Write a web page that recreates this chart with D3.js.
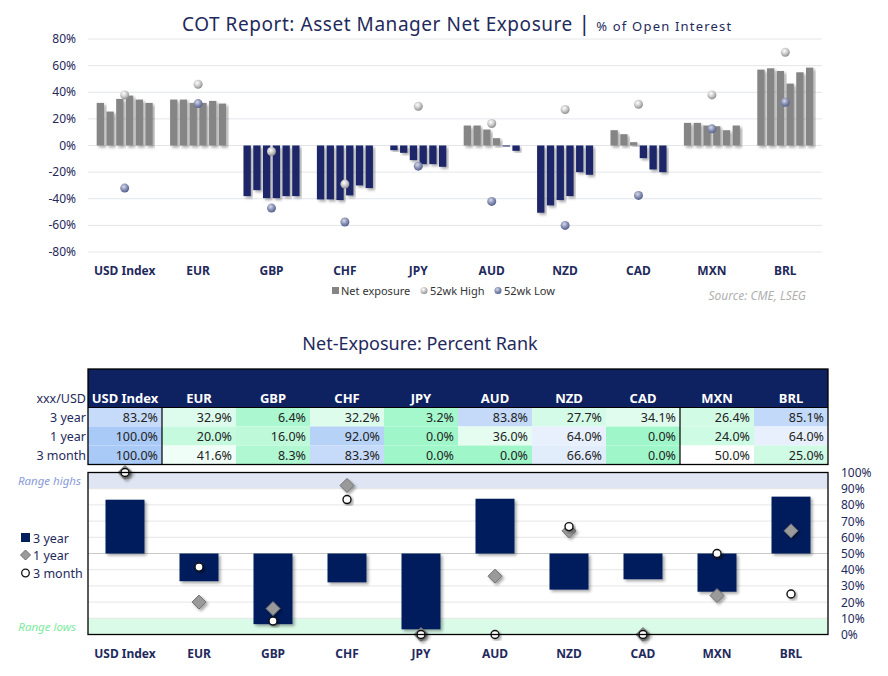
<!doctype html>
<html lang="en">
<head>
<meta charset="utf-8">
<title>COT Report</title>
<script src="https://cdn.jsdelivr.net/npm/d3@7"></script>
<style>
  body { margin: 0; background: #fff; }
  svg text { font-family: "Noto Sans", "Open Sans", sans-serif; }
</style>
</head>
<body>
<svg id="chart" width="888" height="676"></svg>
<script>
// ---- data ----
var categories = ["USD Index", "EUR", "GBP", "CHF", "JPY", "AUD", "NZD", "CAD", "MXN", "BRL"];
// six most recent weekly readings per currency (% of open interest)
var netExposure = [
  [32, 25.5, 35, 37.5, 34.5, 32],
  [34.5, 34.5, 32, 32, 33.5, 31.5],
  [-38, -33.5, -39.5, -39.5, -38, -38],
  [-40.5, -40.5, -41, -37.5, -30, -32],
  [-3.5, -5.5, -11, -14, -14, -16],
  [15, 15, 12, 5.5, -0.5, -4],
  [-50.5, -45, -41, -38, -20, -22],
  [11.5, 8.5, 2.5, -9.5, -18, -20],
  [17, 17, 15, 14.5, 11.5, 15],
  [57, 58, 56, 46.5, 55, 58.5]
];
var high52 = [38, 46, -4.5, -29, 29.5, 16.5, 27, 31, 38, 70];
var low52 = [-32, 31.5, -47, -57.5, -15.5, -42, -60, -37.5, 12.5, 32.5];
var topTicks = [80, 60, 40, 20, 0, -20, -40, -60, -80];

var rankRows = ["3 year", "1 year", "3 month"];
var rank3y = [83.2, 32.9, 6.4, 32.2, 3.2, 83.8, 27.7, 34.1, 26.4, 85.1];
var rank1y = [100, 20, 16, 92, 0, 36, 64, 0, 24, 64];
var rank3m = [100, 41.6, 8.3, 83.3, 0, 0, 66.6, 0, 50, 25];
var rankTicks = [0, 10, 20, 30, 40, 50, 60, 70, 80, 90, 100];

var navy = "#1b2667", gray = "#858585", textNavy = "#1f2a5c";

var svg = d3.select("#chart");
var defs = svg.append("defs");

function sphere(id, c0, c1, c2) {
  var g = defs.append("radialGradient").attr("id", id).attr("cx", "40%").attr("cy", "35%").attr("r", "65%");
  g.append("stop").attr("offset", "0%").attr("stop-color", c0);
  g.append("stop").attr("offset", "55%").attr("stop-color", c1);
  g.append("stop").attr("offset", "100%").attr("stop-color", c2);
}
sphere("hiBall", "#ffffff", "#c9c9c9", "#8e8e8e");
sphere("loBall", "#d8dbe8", "#8890b4", "#55608f");

var sh = defs.append("filter").attr("id", "shadow").attr("x", "-30%").attr("y", "-30%").attr("width", "160%").attr("height", "160%");
sh.append("feDropShadow").attr("dx", 2).attr("dy", 2).attr("stdDeviation", 1.5).attr("flood-color", "#000").attr("flood-opacity", 0.35);

// ---- top chart ----
var x = d3.scaleBand().domain(categories).range([88, 822]);
var y = d3.scaleLinear().domain([-80, 80]).range([252, 39]);
var inner = d3.scaleBand().domain(d3.range(6)).range([-28, 28]).paddingInner(0.25);

svg.append("text").attr("x", 182).attr("y", 31).attr("fill", textNavy)
  .style("font-size", "19px").style("letter-spacing", "0.55px")
  .text("COT Report: Asset Manager Net Exposure ")
  .append("tspan").style("font-size", "22px").style("letter-spacing", "0").text("| ")
  .append("tspan").style("font-size", "13px").style("letter-spacing", "1.2px").text("% of Open Interest");

svg.append("g").selectAll("line").data(topTicks).join("line")
  .attr("x1", 88).attr("x2", 822)
  .attr("y1", d => y(d)).attr("y2", d => y(d))
  .attr("stroke", "#e2e6ea").attr("stroke-width", 1);

svg.append("g").selectAll("text").data(topTicks).join("text")
  .attr("x", 76).attr("y", d => y(d) + 4).attr("text-anchor", "end")
  .attr("fill", textNavy).style("font-size", "12px")
  .text(d => d + "%");

var groups = svg.append("g").selectAll("g").data(categories).join("g")
  .attr("transform", d => "translate(" + (x(d) + x.bandwidth() / 2) + ",0)");

groups.selectAll("rect").data((d, i) => netExposure[i]).join("rect")
  .attr("x", (d, j) => inner(j))
  .attr("width", inner.bandwidth())
  .attr("y", d => y(Math.max(0, d)))
  .attr("height", d => Math.max(1, Math.abs(y(d) - y(0))))
  .attr("fill", d => d >= 0 ? gray : navy)
  .attr("filter", "url(#shadow)");

groups.append("circle").attr("cx", 0).attr("cy", (d, i) => y(high52[i])).attr("r", 4.5).attr("fill", "url(#hiBall)");
groups.append("circle").attr("cx", 0).attr("cy", (d, i) => y(low52[i])).attr("r", 4.5).attr("fill", "url(#loBall)");

svg.append("g").selectAll("text").data(categories).join("text")
  .attr("x", d => x(d) + x.bandwidth() / 2).attr("y", 275).attr("text-anchor", "middle")
  .attr("fill", textNavy).style("font-size", "12px").style("font-weight", "bold")
  .text(d => d);

var lg = svg.append("g").style("font-size", "11px").attr("fill", "#333");
lg.append("rect").attr("x", 332).attr("y", 287).attr("width", 7).attr("height", 7).attr("fill", gray);
lg.append("text").attr("x", 341).attr("y", 295).text("Net exposure");
lg.append("circle").attr("cx", 424).attr("cy", 290.5).attr("r", 3.5).attr("fill", "url(#hiBall)");
lg.append("text").attr("x", 430).attr("y", 295).text("52wk High");
lg.append("circle").attr("cx", 498).attr("cy", 290.5).attr("r", 3.5).attr("fill", "url(#loBall)");
lg.append("text").attr("x", 504).attr("y", 295).text("52wk Low");

svg.append("text").attr("x", 806).attr("y", 300).attr("text-anchor", "end")
  .attr("fill", "#b0b0b0").style("font-size", "12px").style("font-style", "italic")
  .text("Source: CME, LSEG");

// ---- percent rank table ----
svg.append("text").attr("x", 420).attr("y", 350).attr("text-anchor", "middle")
  .attr("fill", textNavy).style("font-size", "18px").text("Net-Exposure: Percent Rank");

var x2 = d3.scaleBand().domain(categories).range([88, 828]);
var rowY = d3.scaleBand().domain(rankRows).range([407.5, 464.5]);
var rankData = [rank3y, rank1y, rank3m];
var cellColor = d3.scaleLinear().domain([0, 50, 100]).range(["#9ff7c9", "#ffffff", "#a9c9f6"]);

svg.append("rect").attr("x", 88).attr("y", 369).attr("width", 740).attr("height", 38.5).attr("fill", "#0e2160");
svg.append("g").selectAll("text").data(categories).join("text")
  .attr("x", d => x2(d) + x2.bandwidth() / 2).attr("y", 403).attr("text-anchor", "middle")
  .attr("fill", "#fff").style("font-size", "13px").style("font-weight", "bold")
  .text(d => d);
svg.append("text").attr("x", 86).attr("y", 403).attr("text-anchor", "end")
  .attr("fill", textNavy).style("font-size", "12.5px").text("xxx/USD");

rankRows.forEach(function (r, ri) {
  var row = svg.append("g");
  row.selectAll("rect").data(rankData[ri]).join("rect")
    .attr("x", (d, i) => x2(categories[i])).attr("y", rowY(r))
    .attr("width", x2.bandwidth()).attr("height", rowY.bandwidth())
    .attr("fill", d => cellColor(d));
  row.selectAll("text").data(rankData[ri]).join("text")
    .attr("x", (d, i) => x2(categories[i]) + x2.bandwidth() - 4)
    .attr("y", rowY(r) + 14.5).attr("text-anchor", "end")
    .attr("fill", "#222").style("font-size", "12.5px")
    .text(d => d.toFixed(1) + "%");
  svg.append("text").attr("x", 86).attr("y", rowY(r) + 14.5).attr("text-anchor", "end")
    .attr("fill", textNavy).style("font-size", "12.5px").text(r);
});

svg.append("rect").attr("x", 88).attr("y", 369).attr("width", 740).attr("height", 95.5)
  .attr("fill", "none").attr("stroke", "#000").attr("stroke-width", 1.3);
svg.append("g").selectAll("line").data(["USD Index", "MXN"]).join("line")
  .attr("x1", d => x2(d) + (d === "MXN" ? 0 : x2.bandwidth())).attr("x2", d => x2(d) + (d === "MXN" ? 0 : x2.bandwidth()))
  .attr("y1", 407.5).attr("y2", 464.5).attr("stroke", "#000").attr("stroke-width", 1.2);
svg.append("line").attr("x1", 88).attr("x2", 828).attr("y1", 407.5).attr("y2", 407.5).attr("stroke", "#000").attr("stroke-width", 1);

// ---- percent rank chart ----
var y2 = d3.scaleLinear().domain([0, 100]).range([634.5, 472.5]);

svg.append("rect").attr("x", 88).attr("y", y2(100)).attr("width", 740).attr("height", y2(90) - y2(100)).attr("fill", "#dfe5f2");
svg.append("rect").attr("x", 88).attr("y", y2(10)).attr("width", 740).attr("height", y2(0) - y2(10)).attr("fill", "#d9fbe8");

svg.append("g").selectAll("line").data(rankTicks.filter(d => d > 0 && d < 100)).join("line")
  .attr("x1", 88).attr("x2", 828).attr("y1", d => y2(d)).attr("y2", d => y2(d))
  .attr("stroke", d => d === 50 ? "#c8c8c8" : "#e6e6e6").attr("stroke-width", 1);

svg.append("g").selectAll("text").data(rankTicks).join("text")
  .attr("x", 841).attr("y", d => y2(d) + 4.5)
  .attr("fill", textNavy).style("font-size", "12px")
  .text(d => d + "%");

svg.append("g").selectAll("rect").data(rank3y).join("rect")
  .attr("x", (d, i) => x2(categories[i]) + x2.bandwidth() / 2 - 19.5)
  .attr("width", 39)
  .attr("y", d => y2(Math.max(50, d)))
  .attr("height", d => Math.abs(y2(d) - y2(50)))
  .attr("fill", "#021e5b").attr("filter", "url(#shadow)");

svg.append("g").selectAll("path").data(rank1y).join("path")
  .attr("d", (d, i) => {
    var cx = x2(categories[i]) + x2.bandwidth() / 2, cy = y2(d), r = 7;
    return "M" + cx + "," + (cy - r) + "L" + (cx + r) + "," + cy + "L" + cx + "," + (cy + r) + "L" + (cx - r) + "," + cy + "Z";
  })
  .attr("fill", "#9a9a9a").attr("stroke", "#6e6e6e").attr("stroke-width", 1)
  .attr("filter", "url(#shadow)");

svg.append("g").selectAll("circle").data(rank3m).join("circle")
  .attr("cx", (d, i) => x2(categories[i]) + x2.bandwidth() / 2)
  .attr("cy", d => y2(d)).attr("r", 4)
  .attr("fill", "#fff").attr("stroke", "#111").attr("stroke-width", 1.4)
  .attr("filter", "url(#shadow)");

svg.append("rect").attr("x", 88).attr("y", y2(100)).attr("width", 740).attr("height", y2(0) - y2(100))
  .attr("fill", "none").attr("stroke", "#000").attr("stroke-width", 1.3);

svg.append("text").attr("x", 81).attr("y", 485).attr("text-anchor", "end")
  .attr("fill", "#8b9bd8").style("font-size", "11.5px").style("font-style", "italic").text("Range highs");
svg.append("text").attr("x", 76).attr("y", 631).attr("text-anchor", "end")
  .attr("fill", "#7deaa0").style("font-size", "11.5px").style("font-style", "italic").text("Range lows");

svg.append("g").selectAll("text").data(categories).join("text")
  .attr("x", d => x2(d) + x2.bandwidth() / 2).attr("y", 658).attr("text-anchor", "middle")
  .attr("fill", textNavy).style("font-size", "12px").style("font-weight", "bold")
  .text(d => d);

var lg2 = svg.append("g").style("font-size", "12.5px").attr("fill", textNavy);
lg2.append("rect").attr("x", 21).attr("y", 533).attr("width", 9).attr("height", 9).attr("fill", "#021e5b");
lg2.append("text").attr("x", 33).attr("y", 543).text("3 year");
lg2.append("path").attr("d", "M25.5,550L30.5,555L25.5,560L20.5,555Z").attr("fill", "#9a9a9a").attr("stroke", "#6e6e6e");
lg2.append("text").attr("x", 33).attr("y", 560).text("1 year");
lg2.append("circle").attr("cx", 25.5).attr("cy", 573).attr("r", 3.8).attr("fill", "#fff").attr("stroke", "#111").attr("stroke-width", 1.3);
lg2.append("text").attr("x", 33).attr("y", 578).text("3 month");
</script>
</body>
</html>
